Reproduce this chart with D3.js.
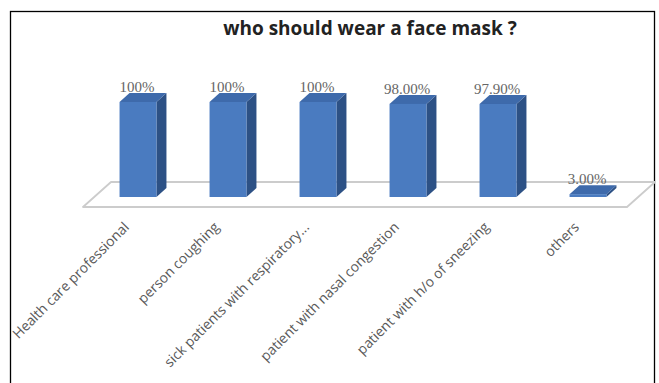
<!DOCTYPE html>
<html>
<head>
<meta charset="utf-8">
<script src="https://cdn.jsdelivr.net/npm/d3@7"></script>
<style>
  html, body { margin: 0; padding: 0; background: #fff; }
  svg { display: block; }
</style>
</head>
<body>
<svg id="chart" width="659" height="383"></svg>
<script>
// Survey answers: who should wear a face mask
const categories = [
  "Health care professional",
  "person coughing",
  "sick patients with respiratory...",
  "patient with nasal congestion",
  "patient with h/o of sneezing",
  "others"
];
const values = [100, 100, 100, 98.0, 97.9, 3.0];
const valueLabels = ["100%", "100%", "100%", "98.00%", "97.90%", "3.00%"];
const chartTitle = "who should wear a face mask ?";

const svg = d3.select("#chart");

// Outer frame
svg.append("rect")
  .attr("x", 10.5).attr("y", 11.5)
  .attr("width", 644).attr("height", 390)
  .attr("fill", "none").attr("stroke", "#000").attr("stroke-width", 1.3);

// Title, sized to its box
const title = svg.append("text")
  .attr("x", 370).attr("y", 35)
  .attr("text-anchor", "middle")
  .attr("font-family", "'Open Sans', sans-serif")
  .attr("font-weight", "bold")
  .attr("font-size", 17)
  .attr("fill", "#222")
  .text(chartTitle);
{
  const w = title.node().getComputedTextLength();
  title.attr("font-size", 17 * 294 / w);
}

// Scales for the front plane of the bars
const x = d3.scaleBand()
  .domain(categories)
  .range([93, 633])
  .paddingInner(0.59)
  .paddingOuter(0.295);
const y = d3.scaleLinear().domain([0, 100]).range([197, 102]);

// 3D offsets
const floorDx = 28, floorDy = -25;
const barDx = 10, barDy = -9;

// Floor plane
const fx0 = x.range()[0] - 10, fx1 = x.range()[1] - 6, fy = 207;
svg.append("polygon")
  .attr("points", [
    [fx0, fy], [fx1, fy], [fx1 + floorDx, fy + floorDy], [fx0 + floorDx, fy + floorDy]
  ].map(p => p.join(",")).join(" "))
  .attr("fill", "#fff")
  .attr("stroke", "#cccccc")
  .attr("stroke-width", 1.8)
  .attr("stroke-linejoin", "round");

// Bars as three faces each
const bars = svg.append("g").selectAll("g")
  .data(categories.map((c, i) => ({ c, v: values[i], lab: valueLabels[i] })))
  .join("g");

const pts = arr => arr.map(p => p.join(",")).join(" ");

bars.each(function(d) {
  const g = d3.select(this);
  const x0 = x(d.c), x1 = x0 + x.bandwidth();
  const yb = y(0), yt = y(d.v);
  // side face
  g.append("polygon")
    .attr("points", pts([[x1, yb], [x1 + barDx, yb + barDy], [x1 + barDx, yt + barDy], [x1, yt]]))
    .attr("fill", "#2d5185");
  // top face
  g.append("polygon")
    .attr("points", pts([[x0, yt], [x1, yt], [x1 + barDx, yt + barDy], [x0 + barDx, yt + barDy]]))
    .attr("fill", "#3e6aab");
  // front face
  g.append("rect")
    .attr("x", x0).attr("y", yt)
    .attr("width", x.bandwidth()).attr("height", yb - yt)
    .attr("fill", "#4a7bc0");
});

// Value labels
svg.append("g").selectAll("text")
  .data(categories.map((c, i) => ({ c, v: values[i], lab: valueLabels[i] })))
  .join("text")
  .attr("x", d => x(d.c) + x.bandwidth() / 2 - 1)
  .attr("y", d => y(d.v) - 10)
  .attr("text-anchor", "middle")
  .attr("font-family", "'Liberation Serif', serif")
  .attr("font-size", 15)
  .attr("fill", "#666")
  .text(d => d.lab);

// Category labels, rotated
const cl = svg.append("g").selectAll("text")
  .data(categories)
  .join("text")
  .attr("transform", d => `translate(${x(d) + x.bandwidth() / 2 - 8},${228}) rotate(-45)`)
  .attr("text-anchor", "end")
  .attr("font-family", "'Open Sans', sans-serif")
  .attr("font-size", 12)
  .attr("fill", "#595959")
  .text(d => d);
{
  const w = cl.nodes()[0].getComputedTextLength();
  cl.attr("font-size", 12 * 158 / w);
}
</script>
</body>
</html>
